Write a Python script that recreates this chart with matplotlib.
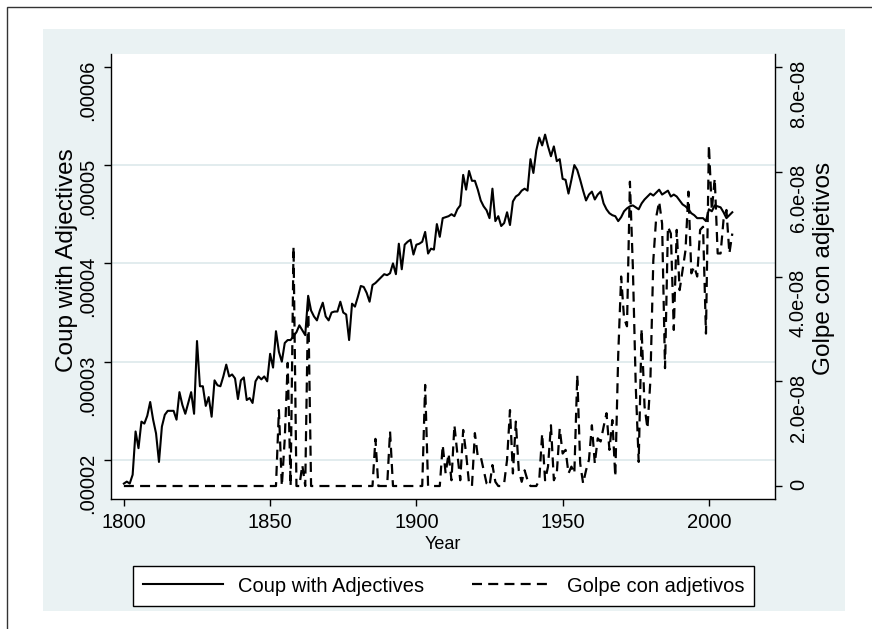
import numpy as np
import matplotlib
matplotlib.use("Agg")
import matplotlib.pyplot as plt
from matplotlib.patches import Rectangle

# Yearly series (1800-2008)
years = np.arange(1800, 2009)

# Coup with Adjectives, in units of 1e-5 (left axis)
coup = [
    1.76, 1.78, 1.76, 1.85, 2.29, 2.12, 2.39, 2.37, 2.45, 2.59,   # 1800s
    2.41, 2.27, 1.98, 2.34, 2.46, 2.50, 2.50, 2.50, 2.41, 2.69,   # 1810s
    2.56, 2.47, 2.58, 2.69, 2.47, 3.21, 2.75, 2.75, 2.55, 2.64,   # 1820s
    2.44, 2.81, 2.76, 2.75, 2.85, 2.97, 2.85, 2.87, 2.83, 2.62,   # 1830s
    2.81, 2.84, 2.61, 2.63, 2.58, 2.80, 2.85, 2.82, 2.85, 2.80,   # 1840s
    3.08, 2.94, 3.31, 3.10, 3.00, 3.19, 3.22, 3.22, 3.26, 3.30,   # 1850s
    3.37, 3.32, 3.27, 3.67, 3.52, 3.46, 3.42, 3.52, 3.60, 3.46,   # 1860s
    3.42, 3.50, 3.51, 3.51, 3.61, 3.50, 3.48, 3.22, 3.59, 3.56,   # 1870s
    3.66, 3.77, 3.76, 3.70, 3.61, 3.78, 3.80, 3.83, 3.86, 3.89,   # 1880s
    3.88, 3.90, 4.00, 3.89, 4.20, 3.94, 4.19, 4.22, 4.24, 4.09,   # 1890s
    4.19, 4.20, 4.22, 4.32, 4.10, 4.15, 4.14, 4.40, 4.27, 4.46,   # 1900s
    4.47, 4.48, 4.50, 4.48, 4.55, 4.59, 4.90, 4.75, 4.94, 4.84,   # 1910s
    4.84, 4.75, 4.64, 4.58, 4.54, 4.46, 4.76, 4.43, 4.48, 4.38,   # 1920s
    4.41, 4.52, 4.39, 4.63, 4.68, 4.70, 4.74, 4.76, 4.74, 5.06,   # 1930s
    4.92, 5.15, 5.28, 5.20, 5.31, 5.19, 5.09, 5.19, 5.04, 5.06,   # 1940s
    4.86, 4.85, 4.71, 4.85, 5.00, 4.95, 4.85, 4.74, 4.64, 4.70,   # 1950s
    4.73, 4.65, 4.70, 4.73, 4.61, 4.55, 4.51, 4.49, 4.48, 4.43,   # 1960s
    4.47, 4.53, 4.56, 4.58, 4.59, 4.57, 4.55, 4.61, 4.65, 4.68,   # 1970s
    4.71, 4.69, 4.72, 4.75, 4.70, 4.72, 4.74, 4.68, 4.70, 4.68,   # 1980s
    4.64, 4.60, 4.58, 4.55, 4.51, 4.49, 4.46, 4.46, 4.46, 4.43,   # 1990s
    4.55, 4.53, 4.59, 4.58, 4.57, 4.52, 4.46, 4.49, 4.52,         # 2000s
]

# Golpe con adjetivos, in units of 1e-8 (right axis)
golpe = [
    0, 0, 0, 0, 0, 0, 0, 0, 0, 0,                                  # 1800s
    0, 0, 0, 0, 0, 0, 0, 0, 0, 0,                                  # 1810s
    0, 0, 0, 0, 0, 0, 0, 0, 0, 0,                                  # 1820s
    0, 0, 0, 0, 0, 0, 0, 0, 0, 0,                                  # 1830s
    0, 0, 0, 0, 0, 0, 0, 0, 0, 0,                                  # 1840s
    0, 0, 0, 1.45, 0, 0.9, 2.35, 0, 4.57, 0,                       # 1850s
    0, 0.4, 0, 3.6, 0, 0, 0, 0, 0, 0,                              # 1860s
    0, 0, 0, 0, 0, 0, 0, 0, 0, 0,                                  # 1870s
    0, 0, 0, 0, 0, 0, 0.9, 0, 0, 0,                                # 1880s
    0, 1.04, 0, 0, 0, 0, 0, 0, 0, 0,                               # 1890s
    0, 0, 0, 1.93, 0, 0, 0, 0, 0, 0.78,                            # 1900s
    0.24, 0.62, 0.11, 1.16, 0.62, 0.11, 1.07, 0.62, 0.05, 0,       # 1910s
    1.01, 0.56, 0.56, 0.30, 0.05, 0, 0.40, 0.08, 0, 0,             # 1920s
    0.05, 0.50, 1.45, 0.24, 1.23, 0.30, 0.08, 0.30, 0.11, 0,       # 1930s
    0, 0, 0.11, 1.00, 0.11, 0.37, 1.16, 0.11, 0.24, 1.10,          # 1940s
    0.62, 0.69, 0.24, 0.37, 0.24, 2.12, 0.43, 0.05, 0.30, 0.50,    # 1950s
    1.16, 0.43, 0.91, 0.85, 1.13, 1.39, 0.69, 1.26, 0.18, 2.50,    # 1960s
    4.00, 3.20, 3.05, 5.81, 4.19, 1.90, 0.46, 3.00, 1.52, 1.10,    # 1970s
    2.02, 4.31, 5.14, 5.43, 5.01, 2.25, 4.95, 4.82, 2.98, 4.89,    # 1980s
    3.74, 4.12, 4.50, 5.62, 4.06, 4.19, 4.00, 4.89, 4.95, 2.91,    # 1990s
    6.51, 5.27, 5.87, 4.44, 4.44, 5.08, 5.27, 4.44, 4.82,          # 2000s
]

x_ticks = [1800, 1850, 1900, 1950, 2000]
left_ticks = [2e-5, 3e-5, 4e-5, 5e-5, 6e-5]
left_labels = [".00002", ".00003", ".00004", ".00005", ".00006"]
right_ticks = [0, 2e-8, 4e-8, 6e-8, 8e-8]
right_labels = ["0", "2.0e-08", "4.0e-08", "6.0e-08", "8.0e-08"]

FS = 14.5
plt.rcParams["font.family"] = ["Liberation Sans", "DejaVu Sans"]
plt.rcParams["font.size"] = FS

W, H = 872, 629
fig = plt.figure(figsize=(W / 100, H / 100), dpi=100)

# outer frame and Stata-like bluish background
fig.add_artist(Rectangle((7 / W, -0.1), 1.2, 1 - 7 / H + 0.1, transform=fig.transFigure,
                         fill=False, edgecolor="#333333", lw=1.0, zorder=-3))
fig.add_artist(Rectangle((43 / W, 1 - 611 / H), (845 - 43) / W, (611 - 29) / H,
                         transform=fig.transFigure, facecolor="#eaf2f3",
                         edgecolor="none", zorder=-2))

ax = fig.add_axes([111 / W, 1 - 499 / H, (775 - 111) / W, (499 - 54) / H])
ax.set_facecolor("white")
ax2 = ax.twinx()

coup_v = np.array(coup) * 1e-5
golpe_v = np.array(golpe) * 1e-8

l1, = ax.plot(years, coup_v, color="black", lw=1.5, zorder=3)
l2, = ax2.plot(years, golpe_v, color="black", lw=1.6, dashes=(4.5, 2.8), zorder=3)

ax.set_xlim(1795.6, 2022.6)
ax.set_ylim(1.603e-5, 6.13e-5)
ax2.set_ylim(-0.248e-8, 8.248e-8)

ax.set_xticks(x_ticks)
ax.set_yticks(left_ticks)
ax.set_yticklabels(left_labels)
ax2.set_yticks(right_ticks)
ax2.set_yticklabels(right_labels)

for gy in left_ticks[:-1]:
    ax.axhline(gy, color="#dde9eb", lw=1.2, zorder=1)

for a in (ax, ax2):
    a.spines["top"].set_visible(False)
    for s in a.spines.values():
        s.set_linewidth(1.0)
    a.tick_params(length=5, width=1.0, pad=5, labelsize=FS)
ax.spines["right"].set_visible(False)
ax2.spines["left"].set_visible(False)
ax2.spines["bottom"].set_visible(False)
ax.tick_params(axis="y", labelrotation=90)
ax2.tick_params(axis="y", labelrotation=90)

ax.set_xlabel("Year", fontsize=13)
ax.xaxis.set_label_coords(0.5, -0.084)
ax.set_ylabel("Coup with Adjectives", fontsize=17.5)
ax.yaxis.set_label_coords(-0.050, 0.537)
ax2.set_ylabel("Golpe con adjetivos", fontsize=17.5)
ax2.yaxis.set_label_coords(1.057, 0.519)

leg = fig.legend([l1, l2], ["Coup with Adjectives", "Golpe con adjetivos"],
                 loc="center", bbox_to_anchor=(443.5 / W, 1 - 586 / H), ncol=2,
                 frameon=True, fancybox=False, framealpha=1, edgecolor="black",
                 handlelength=4.0, handletextpad=0.7, columnspacing=2.4,
                 borderpad=0.5, fontsize=FS)
leg.get_frame().set_linewidth(1.0)

fig.savefig("out.png", dpi=100)
